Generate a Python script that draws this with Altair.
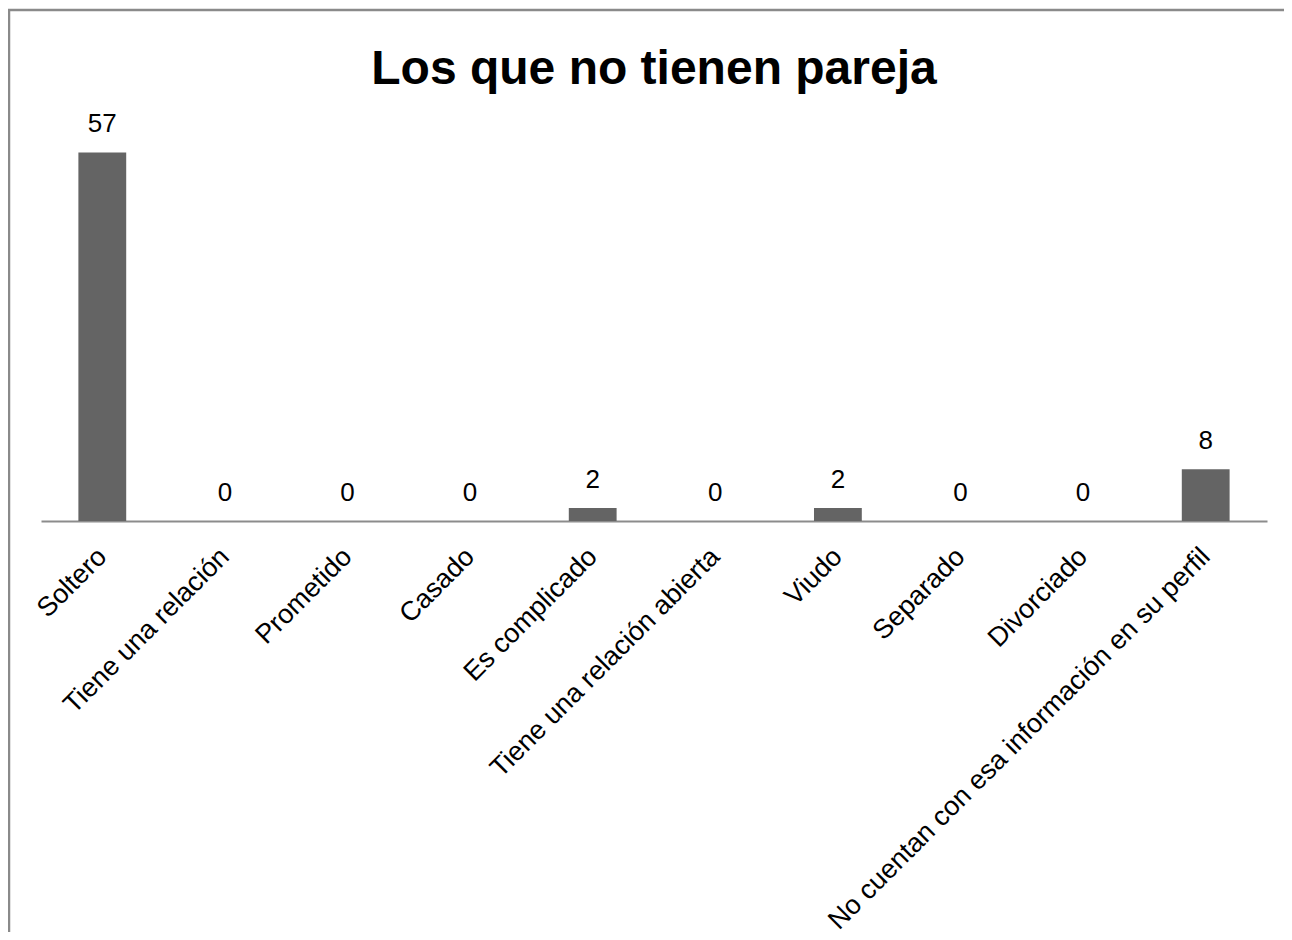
import altair as alt
import pandas as pd

categories = [
    "Soltero",
    "Tiene una relación",
    "Prometido",
    "Casado",
    "Es complicado",
    "Tiene una relación abierta",
    "Viudo",
    "Separado",
    "Divorciado",
    "No cuentan con esa información en su perfil",
]
values = [57, 0, 0, 0, 2, 0, 2, 0, 0, 8]

df = pd.DataFrame({"categoria": categories, "valor": values})

FONT = "Liberation Sans"

x = alt.X(
    "categoria:N",
    sort=None,
    scale=alt.Scale(paddingInner=0.61, paddingOuter=0.305),
    axis=alt.Axis(
        title=None,
        labelAngle=-45,
        labelFontSize=27,
        labelFont=FONT,
        labelColor="#000000",
        labelLimit=800,
        labelPadding=22,
        labelOffset=-9,
        ticks=False,
        domainColor="#8c8c8c",
        domainWidth=2,
        grid=False,
    ),
)
y = alt.Y("valor:Q", scale=alt.Scale(domain=[0, 60], nice=False), axis=None)

base = alt.Chart(df)

bars = base.mark_bar(color="#646464").encode(x=x, y=y)
labels = base.mark_text(
    dy=-20, baseline="alphabetic", fontSize=26, font=FONT, color="#000000"
).encode(x=x, y=y, text="valor:Q")

frame = alt.Chart(pd.DataFrame({"k": [0]})).mark_rect(
    fillOpacity=0, stroke="#8a8a8a", strokeWidth=2.5
).encode(
    x=alt.value(-32), x2=alt.value(1400), y=alt.value(-123), y2=alt.value(1000)
)

chart = (
    alt.layer(frame, bars, labels)
    .properties(
        width=1226,
        height=388,
        background="#ffffff",
        autosize=alt.AutoSizeParams(type="none"),
        padding={"left": 33, "top": 125, "right": 17, "bottom": 411},
        title=alt.TitleParams(
            "Los que no tienen pareja",
            fontSize=48,
            font=FONT,
            fontWeight="bold",
            color="#000000",
            anchor="middle",
            offset=-85,
        ),
    )
    .configure_view(stroke="transparent", strokeWidth=0)
)

chart.save("out.html", embed_options={"renderer": "svg", "actions": False})
